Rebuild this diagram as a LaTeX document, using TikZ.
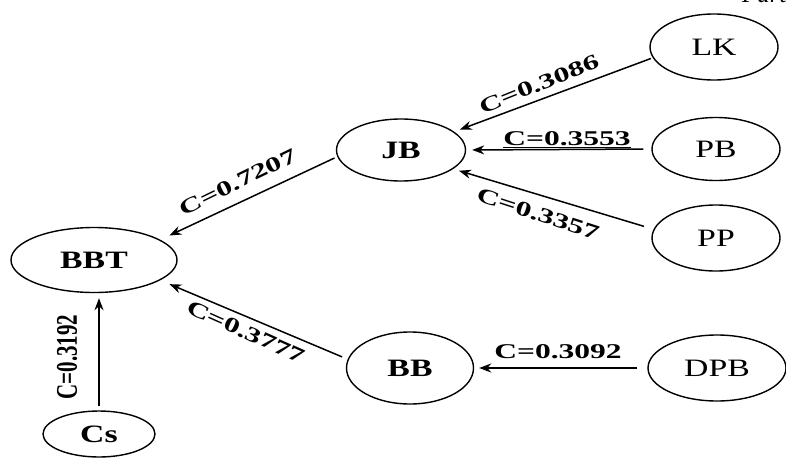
\documentclass[tikz,border=0pt]{standalone}
\usepackage{fontspec}
\setmainfont{Liberation Serif}
\newfontfamily\wideserif[FakeStretch=1.35]{Liberation Serif}
\newfontfamily\lblserif[FakeStretch=1.5]{Liberation Serif}
\newfontfamily\narrowserif[FakeStretch=0.7]{Liberation Serif}
\usetikzlibrary{shapes.geometric,arrows.meta}
\begin{document}
\begin{tikzpicture}[x=1pt,y=-1pt,
  var/.style={ellipse,draw,line width=1.4pt,inner sep=0pt,
    minimum width=128pt,minimum height=64pt,font=\wideserif\fontsize{25}{25}\selectfont},
  keyvar/.style={var,font=\wideserif\bfseries\fontsize{25}{25}\selectfont},
  link/.style={line width=1.5pt,-{Stealth[length=12pt,width=9pt]},
    shorten <=8pt,shorten >=6pt},
  coef/.style={inner sep=0pt,font=\lblserif\bfseries\fontsize{21}{21}\selectfont}]
\useasboundingbox (0,0) rectangle (786,463);
\clip (0,0) rectangle (786,463);

% variables
\node[keyvar,minimum width=166pt,minimum height=65pt] (BBT) at (94,260) {BBT};
\node[keyvar,minimum width=129pt,minimum height=62pt] (JB) at (401,150) {JB};
\node[keyvar,minimum width=127pt,minimum height=72pt] (BB) at (410,368) {BB};
\node[keyvar,minimum width=112pt,minimum height=46pt] (Cs) at (99,434) {Cs};
\node[var,minimum width=128pt,minimum height=66pt] (LK) at (714,47) {LK};
\node[var,minimum width=128pt,minimum height=63pt] (PB) at (716,149) {PB};
\node[var,minimum width=128pt,minimum height=66pt] (PP) at (716,238) {PP};
\node[var,minimum width=138pt,minimum height=66pt] (DPB) at (717,368) {DPB};

% caption fragment cut by the upper edge
\node[anchor=base west,inner sep=0pt,font=\itshape\fontsize{25}{25}\selectfont] (cap) at (742,2) {Part};

% paths
\draw[link,shorten <=2pt] (LK.190) -- (JB.19);
\draw[link] (PB.west) -- (JB.east);
\draw[link,shorten <=10pt] (PP.172) -- (JB.-20);
\draw[link,shorten <=3pt,shorten >=10pt] (JB.186) -- (BBT.17);
\draw[link,shorten <=6pt,shorten >=10pt] (BB.172) -- (BBT.-17);
\draw[link,shorten <=10pt,shorten >=5pt] (DPB.west) -- (BB.east);
\draw[link,shorten <=4pt,shorten >=5pt] (Cs.north) -- (Cs.north |- BBT.south);

% path coefficients
\node[coef,rotate=22] (c1) at (539,84) {C=0.3086};
\node[coef] (c2) at (567,140) {\underline{C=0.3553}};
\node[coef,rotate=-18] (c3) at (538,214) {C=0.3357};
\node[coef,rotate=26] (c4) at (238,182) {C=0.7207};
\node[coef,rotate=-24] (c5) at (246,332) {C=0.3777};
\node[coef] (c6) at (558,352) {C=0.3092};
\node[coef,rotate=90,font=\narrowserif\bfseries\fontsize{30}{30}\selectfont] (c7) at (67,357) {C=0.3192};
\end{tikzpicture}
\end{document}
